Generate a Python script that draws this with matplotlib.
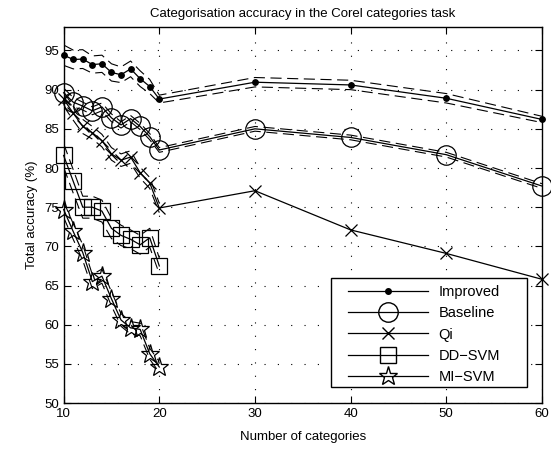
import numpy as np
import matplotlib
matplotlib.use("Agg")
from matplotlib import pyplot as plt
from matplotlib import patches
from matplotlib.lines import Line2D

plt.rcParams['font.family'] = ['Liberation Sans', 'DejaVu Sans']

# number of categories
cats = [10, 11, 12, 13, 14, 15, 16, 17, 18, 19, 20, 30, 40, 50, 60]
cats_small = [10, 11, 12, 13, 14, 15, 16, 17, 18, 19, 20]

improved = [94.4, 93.85, 93.9, 93.2, 93.3, 92.2, 91.9, 92.65, 91.4, 90.4, 88.8,
            90.95, 90.6, 88.9, 86.2]
improved_err = [1.3, 1.2, 1.2, 1.1, 1.1, 1.1, 1.0, 1.0, 1.0, 0.9, 0.5,
                0.6, 0.6, 0.6, 0.4]
baseline = [89.6, 88.4, 87.9, 87.3, 87.8, 86.4, 85.5, 86.3, 85.3, 84.0, 82.3,
            85.0, 83.9, 81.7, 77.7]
baseline_err = [0.6, 0.6, 0.5, 0.5, 0.5, 0.5, 0.4, 0.4, 0.4, 0.4, 0.3,
                0.3, 0.3, 0.3, 0.3]
qi = [88.8, 87.0, 85.3, 84.5, 83.5, 81.8, 81.0, 81.4, 79.4, 78.1, 74.9,
      77.1, 72.1, 69.1, 65.8]
qi_err = [0.9, 0.9, 0.9, 0.8, 0.8, 0.8, 0.8, 0.8, 0.7, 0.7, 0.6]
ddsvm = [81.6, 78.3, 75.0, 75.0, 74.5, 72.3, 71.4, 70.9, 70.2, 71.1, 67.5]
ddsvm_err = [1.5, 1.5, 1.4, 1.4, 1.4, 1.3, 1.3, 1.2, 1.2, 1.2, 1.0]
misvm = [74.7, 71.9, 69.2, 65.5, 66.2, 63.3, 60.6, 59.6, 59.4, 56.3, 54.6]
misvm_err = [1.0, 1.0, 1.0, 0.9, 0.9, 0.9, 0.8, 0.8, 0.8, 0.7, 0.7]

labels = ["Improved", "Baseline", "Qi", "DD\u2212SVM", "MI\u2212SVM"]

fig = plt.figure(figsize=(5.51, 4.57), dpi=100)
ax = fig.add_axes([0.1155, 0.118, 0.868, 0.823])

DASH = (0, (10, 5))

def draw_bounds(x, y, err):
    x = np.asarray(x[:len(err)])
    y = np.asarray(y[:len(err)])
    err = np.asarray(err)
    ax.plot(x, y + err, color='k', lw=0.8, ls=DASH)
    ax.plot(x, y - err, color='k', lw=0.8, ls=DASH)

draw_bounds(cats, improved, improved_err)
draw_bounds(cats, baseline, baseline_err)
draw_bounds(cats, qi, qi_err)
draw_bounds(cats_small, ddsvm, ddsvm_err)
draw_bounds(cats_small, misvm, misvm_err)

style = dict(color='k', lw=0.9, mfc='none', mec='k', mew=0.9, clip_on=False)
ax.plot(cats, improved, marker='.', ms=8, mfc='k', **{k: v for k, v in style.items() if k != 'mfc'})
ax.plot(cats, baseline, marker='o', ms=14, **style)
ax.plot(cats, qi, marker='x', ms=9, **style)
ax.plot(cats_small, ddsvm, marker='s', ms=11, **style)
ax.plot(cats_small, misvm, marker='*', ms=14, **style)

ax.set_xlim(10, 60)
ax.set_ylim(50, 98)
ax.set_xticks(range(10, 61, 10))
ax.set_yticks(range(50, 96, 5))
ax.grid(True, color='k', ls=(0, (1, 11)), lw=0.8)
ax.tick_params(direction='in', top=True, right=True, length=5, labelsize=9.5, width=0.8)
for s in ax.spines.values():
    s.set_linewidth(1.0)

ax.set_title("Categorisation accuracy in the Corel categories task", fontsize=9.5, pad=7)
ax.set_xlabel("Number of categories", fontsize=9.5, labelpad=8)
ax.set_ylabel("Total accuracy (%)", fontsize=9.5, labelpad=4)

handles = [
    Line2D([], [], color='k', lw=0.9, marker='.', ms=8, mfc='k', mec='k'),
    Line2D([], [], color='k', lw=0.9, marker='o', ms=14, mfc='none', mec='k'),
    Line2D([], [], color='k', lw=0.9, marker='x', ms=9, mec='k'),
    Line2D([], [], color='k', lw=0.9, marker='s', ms=11, mfc='none', mec='k'),
    Line2D([], [], color='k', lw=0.9, marker='*', ms=14, mfc='none', mec='k'),
]
# MATLAB-like legend: wide side margins, box drawn separately
ax.add_patch(patches.Rectangle((0.559, 0.043), 0.41, 0.29, transform=ax.transAxes,
                               facecolor='white', edgecolor='k', lw=1.0, zorder=4))
leg = ax.legend(handles, labels, loc='upper left', bbox_to_anchor=(0.5946, 0.314),
                borderaxespad=0, borderpad=0, frameon=False, fontsize=10.5,
                handlelength=5.5, labelspacing=0.5, handletextpad=0.7)
leg.set_zorder(5)

fig.savefig('out.png', dpi=100)
